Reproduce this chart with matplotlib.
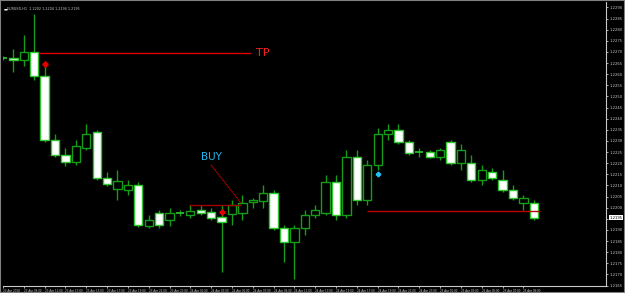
import matplotlib
matplotlib.use("Agg")
import matplotlib.pyplot as plt
import numpy as np

# EURUSD H1 candles, 23 Apr 07:00 -> 25 Apr 10:00
opens = [1.22671, 1.22671, 1.22662, 1.22698, 1.22590, 1.22306, 1.22238, 1.22207, 1.22270, 1.22338,
         1.22135, 1.22085, 1.22081, 1.22103, 1.21918, 1.21977, 1.21945, 1.21977, 1.21968, 1.21990,
         1.21981, 1.21959, 1.21972, 1.21977, 1.22026, 1.22031, 1.22067, 1.21909, 1.21846, 1.21909,
         1.21968, 1.21977, 1.22117, 1.21968, 1.22229, 1.22035, 1.22193, 1.22329, 1.22351, 1.22293,
         1.22252, 1.22252, 1.22229, 1.22293, 1.22202, 1.22202, 1.22126, 1.22162, 1.22126, 1.22081,
         1.22022, 1.22022]
highs = [1.22680, 1.22712, 1.22775, 1.22870, 1.22640, 1.22329, 1.22270, 1.22306, 1.22374, 1.22351,
         1.22162, 1.22171, 1.22126, 1.22117, 1.21968, 1.21990, 1.21999, 1.21990, 1.22013, 1.22013,
         1.21999, 1.22013, 1.22035, 1.22058, 1.22044, 1.22103, 1.22081, 1.21923, 1.21923, 1.21990,
         1.22013, 1.22148, 1.22148, 1.22261, 1.22261, 1.22216, 1.22360, 1.22374, 1.22374, 1.22306,
         1.22270, 1.22261, 1.22270, 1.22306, 1.22284, 1.22238, 1.22193, 1.22180, 1.22171, 1.22103,
         1.22058, 1.22035]
lows = [1.22662, 1.22608, 1.22635, 1.22572, 1.22297, 1.22229, 1.22189, 1.22193, 1.22261, 1.22126,
        1.22099, 1.22035, 1.22058, 1.21914, 1.21909, 1.21909, 1.21918, 1.21963, 1.21954, 1.21968,
        1.21945, 1.21711, 1.21923, 1.21945, 1.21999, 1.21999, 1.21900, 1.21756, 1.21679, 1.21878,
        1.21954, 1.21968, 1.21945, 1.21954, 1.22013, 1.22013, 1.22171, 1.22306, 1.22284, 1.22238,
        1.22229, 1.22225, 1.22216, 1.22193, 1.22171, 1.22117, 1.22103, 1.22126, 1.22072, 1.22035,
        1.21990, 1.21945]
closes = [1.22671, 1.22662, 1.22698, 1.22590, 1.22306, 1.22238, 1.22207, 1.22275, 1.22329, 1.22135,
          1.22108, 1.22121, 1.22103, 1.21923, 1.21945, 1.21923, 1.21977, 1.21977, 1.21986, 1.21977,
          1.21954, 1.21936, 1.22013, 1.22022, 1.22035, 1.22067, 1.21909, 1.21846, 1.21909, 1.21968,
          1.21990, 1.22117, 1.21968, 1.22229, 1.22035, 1.22193, 1.22329, 1.22351, 1.22293, 1.22247,
          1.22252, 1.22229, 1.22261, 1.22202, 1.22261, 1.22126, 1.22171, 1.22135, 1.22081, 1.22044,
          1.22044, 1.21954]

tp_price = 1.22694
buy_level = 1.22013
right_level = 1.21986
buy_text_price = 1.22229

price_ticks = [1.2165 + 0.0005 * k for k in range(26)]
time_labels = ["23 Apr 2018", "23 Apr 09:00", "23 Apr 11:00", "23 Apr 13:00", "23 Apr 15:00",
               "23 Apr 17:00", "23 Apr 19:00", "23 Apr 21:00", "23 Apr 23:00", "24 Apr 01:00",
               "24 Apr 03:00", "24 Apr 05:00", "24 Apr 07:00", "24 Apr 09:00", "24 Apr 11:00",
               "24 Apr 13:00", "24 Apr 15:00", "24 Apr 17:00", "24 Apr 19:00", "24 Apr 21:00",
               "24 Apr 23:00", "25 Apr 01:00", "25 Apr 03:00", "25 Apr 05:00", "25 Apr 07:00",
               "25 Apr 09:00"]

GREEN = "#169c16"
BG = "black"
AXC = "#c8c8c8"

fig = plt.figure(figsize=(6.25, 2.93), dpi=100, facecolor=BG)
ax = fig.add_axes([0.0048, 0.0239, 0.9648, 0.9691])
ax.set_facecolor(BG)

x = np.arange(len(opens))
o = np.array(opens); c = np.array(closes); h = np.array(highs); l = np.array(lows)

# wicks
ax.vlines(x, l, h, color=GREEN, lw=1.0, zorder=2)
# bodies
up = c > o
down = c < o
flat = c == o
ax.bar(x[up], (c - o)[up], bottom=o[up], width=0.8, facecolor=BG, edgecolor=GREEN, lw=1.0, zorder=3)
ax.bar(x[down], (o - c)[down], bottom=c[down], width=0.8, facecolor="white", edgecolor="#2ec82e", lw=1.0, zorder=3)
ax.hlines(o[flat], x[flat] - 0.4, x[flat] + 0.4, color="#2ec82e", lw=1.2, zorder=3)

# TP line and label
ax.hlines(tp_price, 3.5, 23.8, color="#e00000", lw=1.0, zorder=4)
ax.text(24.3, tp_price, "TP", color="#ff2020", fontsize=8, va="center", ha="left")

# buy annotation
ax.hlines(buy_level, 17.9, 22.85, color="#a00000", lw=1.0, zorder=4)
ax.plot([19.97, 22.85], [1.22193, 1.22022], color="#e00000", lw=0.8, ls=(0, (1, 0.6)), zorder=4)
ax.text(20.0, buy_text_price, "BUY", color="#20b8f0", fontsize=7.5, ha="center", va="center")
ax.hlines(right_level, 35.0, 51.6, color="#c00000", lw=1.0, zorder=4)

# arrows
ax.plot([4], [1.22644], marker="P", color="#e00000", ms=3.5, zorder=5)
ax.plot([21], [1.21981], marker="P", color="#e00000", ms=3.5, zorder=5)
ax.plot([36], [1.22153], marker="P", color="#20c0f0", ms=3.0, zorder=5)

ax.set_xlim(0.125, 57.94)
ax.set_ylim(1.21648, 1.22924)

ax.yaxis.tick_right()
ax.set_yticks(price_ticks)
ax.set_yticklabels(["%.4f" % p for p in price_ticks], color=AXC, fontsize=2.7)
ax.set_xticks(np.arange(0, 52, 2))
ax.set_xticklabels(time_labels, color=AXC, fontsize=2.0, ha="left")
ax.tick_params(axis="both", colors=AXC, length=1.5, width=0.6, pad=0.8)
for side in ["top", "left"]:
    ax.spines[side].set_visible(False)
for side in ["right", "bottom"]:
    ax.spines[side].set_color(AXC)
    ax.spines[side].set_linewidth(0.8)

# current price marker
ax.text(1.006, closes[-1], "%.4f" % closes[-1], transform=ax.get_yaxis_transform(),
        fontsize=2.7, color="black", va="center", ha="left",
        bbox=dict(boxstyle="square,pad=0.15", fc="white", ec="none"))

# header
fig.text(0.005, 0.968, "\u25ac", color="white", fontsize=3, va="center")
fig.text(0.011, 0.968, "EURUSD,H1  %.4f %.4f %.4f %.4f" % (opens[-1], highs[-1], lows[-1], closes[-1]),
         color=AXC, fontsize=2.4, va="center")

fig.patches.append(plt.Rectangle((0, 0), 1, 1, transform=fig.transFigure, fill=False,
                                 ec="#808080", lw=1.5))

fig.savefig("out.png", dpi=100, facecolor=BG)
